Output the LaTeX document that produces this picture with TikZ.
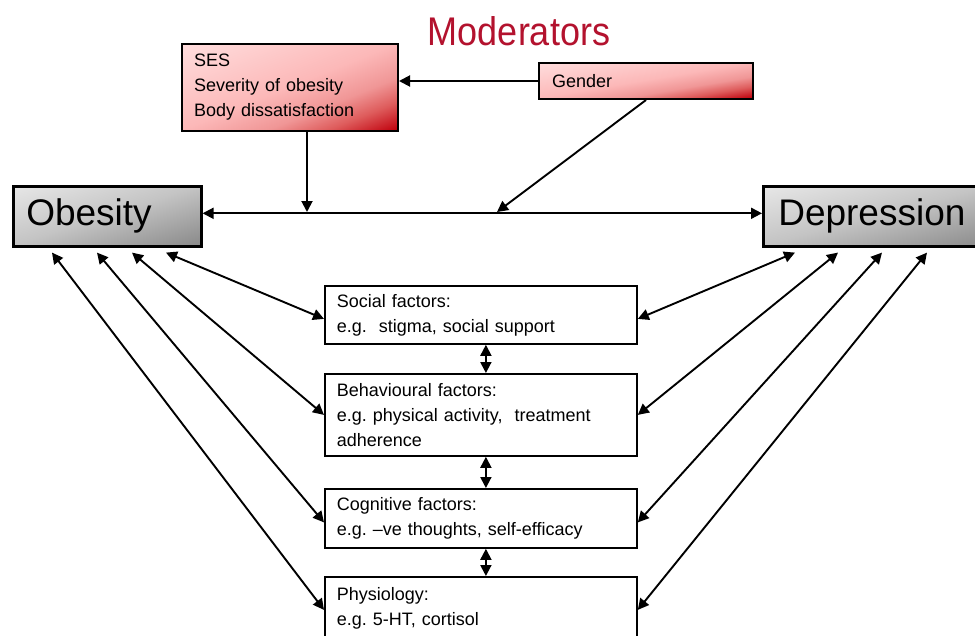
\documentclass[tikz,border=0pt]{standalone}
\usepackage{fontspec}
\setmainfont{Liberation Sans}
\usetikzlibrary{arrows.meta,calc}
\definecolor{modred}{HTML}{B3122E}
\definecolor{pkA}{RGB}{255,222,222}
\definecolor{pkB}{RGB}{252,184,184}
\definecolor{pkC}{RGB}{240,150,150}
\definecolor{pkD}{RGB}{222,92,92}
\definecolor{pkE}{RGB}{192,0,12}
\definecolor{gyA}{RGB}{232,232,232}
\definecolor{gyB}{RGB}{196,196,196}
\definecolor{gyC}{RGB}{138,138,138}
\pgfdeclarehorizontalshading{pinkgrad}{100bp}{color(0bp)=(pkA); color(25bp)=(pkA); color(50bp)=(pkB); color(60bp)=(pkC); color(67bp)=(pkD); color(75bp)=(pkE); color(100bp)=(pkE)}
\pgfdeclarehorizontalshading{graygrad}{100bp}{color(0bp)=(gyA); color(25bp)=(gyA); color(50bp)=(gyB); color(75bp)=(gyC); color(100bp)=(gyC)}
% diagonal fill scaled with the box: X, Y (top-left), half width, half height, shading
\newcommand\mydiagfill[5]{%
  \begin{scope}
    \clip (#1,#2) rectangle ++(2*#3,2*#4);
    \begin{scope}[transform canvas={cm={#3,-#4,#3,#4,(#1pt,-#2pt)}}]
      \shade[shading=#5] (0pt,-1pt) rectangle (2pt,1pt);
    \end{scope}
  \end{scope}}
\tikzset{
  redbox/.style={draw=black, line width=2pt, rectangle, anchor=north west, inner sep=0pt, align=left},
  graybox/.style={draw=black, line width=2.6pt, rectangle, anchor=north west,
    inner sep=0pt, align=left, font=\fontsize{37}{40}\selectfont},
  factor/.style={draw=black, line width=1.8pt, fill=white, rectangle, anchor=north west,
    inner sep=0pt, align=left, font=\fontsize{18}{25}\selectfont},
  dbl/.style={line width=1.9pt, {Triangle[length=11pt,width=11pt]}-{Triangle[length=11pt,width=11pt]}},
  sgl/.style={line width=1.9pt, -{Triangle[length=11pt,width=11pt]}},
}
\begin{document}
\frenchspacing
\begin{tikzpicture}[x=1pt,y=-1pt]
\useasboundingbox (0,0) rectangle (975,635);
% gradient fills
\mydiagfill{181}{43}{108}{43.5}{pinkgrad}
\mydiagfill{538}{62}{107}{18}{pinkgrad}
\mydiagfill{12}{185}{94}{30}{graygrad}
\mydiagfill{762}{185}{115}{30}{graygrad}
% title
\node[text=modred, font=\fontsize{40}{44}\selectfont, anchor=base] (title) at (519,45) {\scalebox{0.9}[1]{Moderators}};
% moderator boxes
\node[redbox, minimum width=216pt, minimum height=87pt, text width=192pt, font=\fontsize{18}{25}\selectfont] (ses) at (181,43) {SES\\Severity of obesity\\Body dissatisfaction};
\node[redbox, minimum width=214pt, minimum height=36pt, text width=188pt, font=\fontsize{18}{22}\selectfont] (gender) at (538,62) {Gender};
% main boxes
\node[graybox, minimum width=188pt, minimum height=60pt, text width=162pt] (obesity) at (12,185) {Obesity};
\node[graybox, minimum width=230pt, minimum height=60pt, text width=200pt] (depression) at (762,185) {Depression};
% factor boxes
\node[factor, minimum width=312pt, minimum height=58pt, text width=288pt] (social) at (324,285) {Social factors:\\e.g.\ \ stigma, social support};
\node[factor, minimum width=312pt, minimum height=82pt, text width=288pt] (behav) at (324,373) {Behavioural factors:\\e.g. physical activity,\ \ treatment\\adherence};
\node[factor, minimum width=312pt, minimum height=59pt, text width=288pt] (cog) at (324,488) {Cognitive factors:\\e.g. \textendash ve thoughts, self-efficacy};
\node[factor, minimum width=312pt, minimum height=62pt, text width=288pt] (phys) at (324,576) {Physiology:\\e.g. 5-HT, cortisol};
% connectors
\coordinate (m1) at (307,212);
\coordinate (m2) at (497,212);
\draw[dbl] ([yshift=3pt]obesity.east) -- ([yshift=3pt]depression.west);
\draw[sgl] (ses.south -| m1) -- (m1);
\draw[sgl] (gender.south) -- (m2);
\draw[sgl] (gender.west) -- (gender.west -| ses.east);
% vertical links
\draw[dbl] ([xshift=5pt]social.south) -- ([xshift=5pt]behav.north);
\draw[dbl] ([xshift=5pt]behav.south) -- ([xshift=5pt]cog.north);
\draw[dbl] ([xshift=5pt]cog.south) -- ([xshift=5pt]phys.north);
% obesity links
\draw[dbl] ([xshift=154pt,yshift=-5pt]obesity.south west) -- ([yshift=-4pt]social.west);
\draw[dbl] ([xshift=120pt,yshift=-5pt]obesity.south west) -- (behav.west);
\draw[dbl] ([xshift=85pt,yshift=-5pt]obesity.south west) -- ([yshift=-4pt]cog.west);
\draw[dbl] ([xshift=40pt,yshift=-5pt]obesity.south west) -- ([yshift=-2pt]phys.west);
% depression links
\draw[dbl] ([xshift=33pt,yshift=-5pt]depression.south west) -- ([yshift=-4pt]social.east);
\draw[dbl] ([xshift=76pt,yshift=-5pt]depression.south west) -- (behav.east);
\draw[dbl] ([xshift=120pt,yshift=-5pt]depression.south west) -- ([yshift=-4pt]cog.east);
\draw[dbl] ([xshift=165pt,yshift=-5pt]depression.south west) -- ([yshift=-2pt]phys.east);
\end{tikzpicture}
\end{document}
